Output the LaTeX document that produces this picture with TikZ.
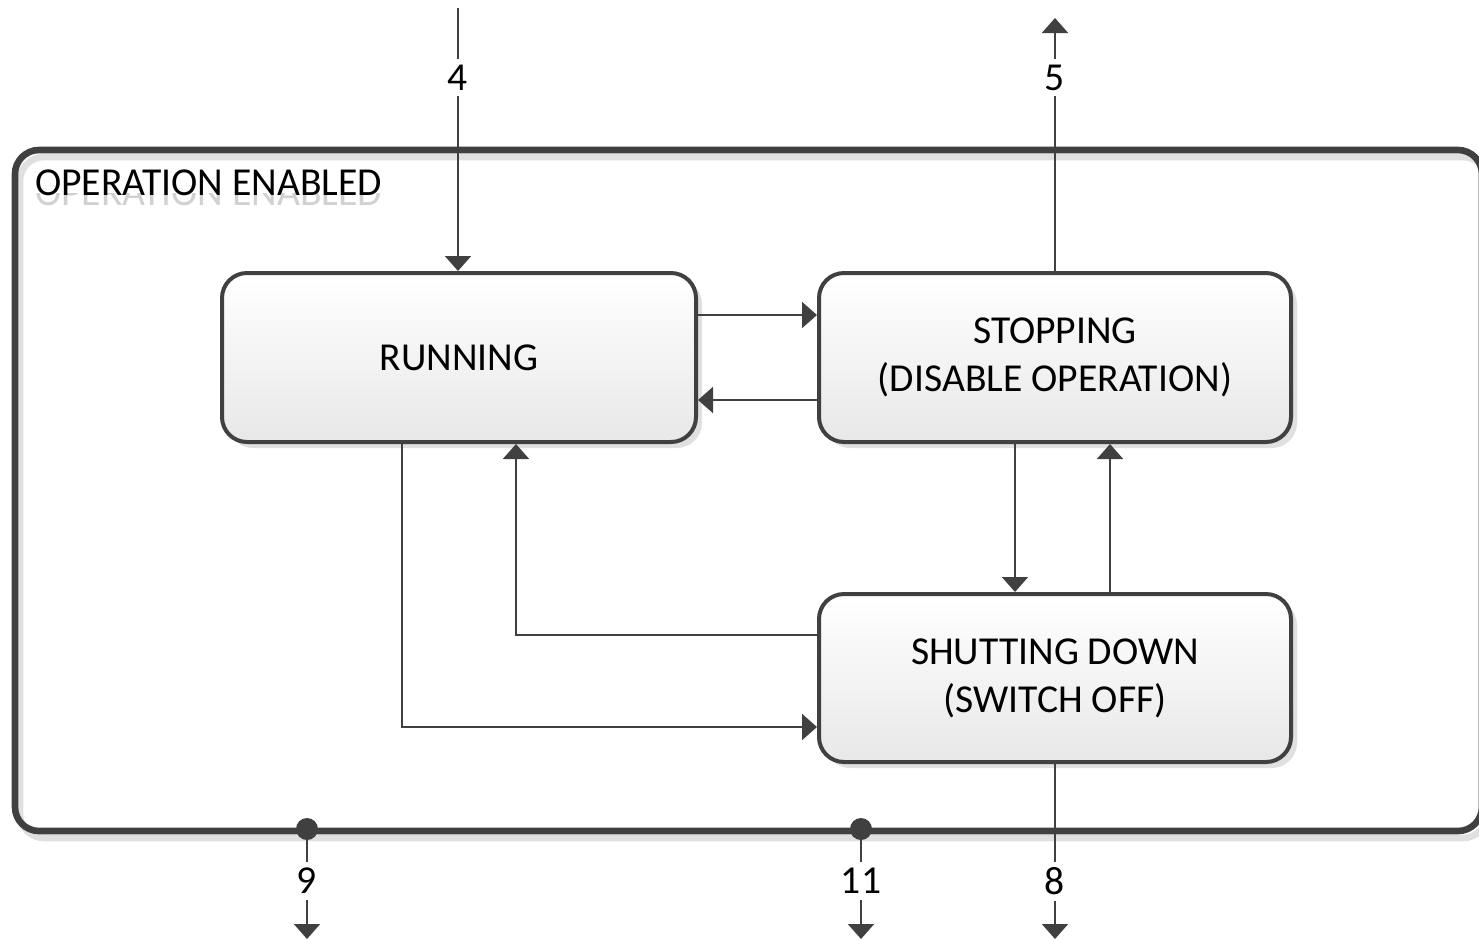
\documentclass[tikz,border=0pt]{standalone}
\usepackage{fontspec}
\setmainfont{Carlito}
\usetikzlibrary{arrows.meta,shadows}
\definecolor{ln}{HTML}{404040}
\begin{document}
\begin{tikzpicture}[x=0.5pt,y=-0.5pt,
  txt/.style={font=\fontsize{19.8}{24}\selectfont, text=black},
  statebox/.style={txt, draw=ln, line width=2pt, rounded corners=12.5pt,
    top color=white, bottom color=black!9, align=center, inner sep=0pt,
    general shadow={fill=black!12, shadow xshift=3pt, shadow yshift=-3pt}},
  conn/.style={draw=ln, line width=1pt, -{Triangle[width=13pt,length=7.5pt]}},
  num/.style={txt, fill=white, inner sep=3pt},
  dotc/.style={fill=ln}]
\useasboundingbox (0,0) rectangle (1479,939);
\clip (0,0) rectangle (1479,939);
% outer container
\draw[black!12, line width=3.3pt, rounded corners=12pt] (20,157) rectangle (1487,838);
\draw[ln, line width=3.3pt, rounded corners=12pt] (15,150) rectangle (1482,831);
\begin{scope}
  \clip (20,193) rectangle (420,212);
  \node[txt, text=black!18, anchor=west] (oeghost) at (28,193) {OPERATION ENABLED};
\end{scope}
\node[txt, anchor=west] (oe) at (28,183) {OPERATION ENABLED};
% states
\node[statebox, minimum width=237pt, minimum height=84.5pt] (run) at (459,357.5) {RUNNING};
\node[statebox, minimum width=236pt, minimum height=84.5pt] (stop) at (1055,357.5) {STOPPING\\(DISABLE OPERATION)};
\node[statebox, minimum width=236pt, minimum height=84pt] (shut) at (1055,678) {SHUTTING DOWN\\(SWITCH OFF)};
% helper coordinates
\coordinate (c4) at (458,8);
\coordinate (c5) at (1055,18);
\coordinate (h315) at (0,315);
\coordinate (h400) at (0,400);
\coordinate (h635) at (0,635);
\coordinate (h727) at (0,727);
\coordinate (v1015) at (1015,0);
\coordinate (v1110) at (1110,0);
\coordinate (v516) at (516,0);
\coordinate (v402) at (402,0);
\coordinate (d9) at (307,829);
\coordinate (e9) at (307,939);
\coordinate (d11) at (861,829);
\coordinate (e11) at (861,939);
\coordinate (e8) at (1055,939);
% connectors
\draw[conn] (c4) -- node[num, pos=0.264] (l4) {4} (c4 |- run.north);
\draw[conn] (stop.north) -- node[num, pos=0.765] (l5) {5} (c5);
\draw[conn] (run.east |- h315) -- (stop.west |- h315);
\draw[conn] (stop.west |- h400) -- (run.east |- h400);
\draw[conn] (stop.south -| v1015) -- (shut.north -| v1015);
\draw[conn] (shut.north -| v1110) -- (stop.south -| v1110);
\draw[conn] (shut.west |- h635) -| (run.south -| v516);
\draw[conn] (run.south -| v402) |- (shut.west |- h727);
\draw[conn] (shut.south) -- node[num, pos=0.672] (l8) {8} (e8);
\draw[conn] (d9) -- node[num, pos=0.473] (l9) {9} (e9);
\draw[conn] (d11) -- node[num, pos=0.473] (l11) {11} (e11);
\fill[dotc] (d9) circle (5.5pt);
\fill[dotc] (d11) circle (5.5pt);
\end{tikzpicture}
\end{document}
